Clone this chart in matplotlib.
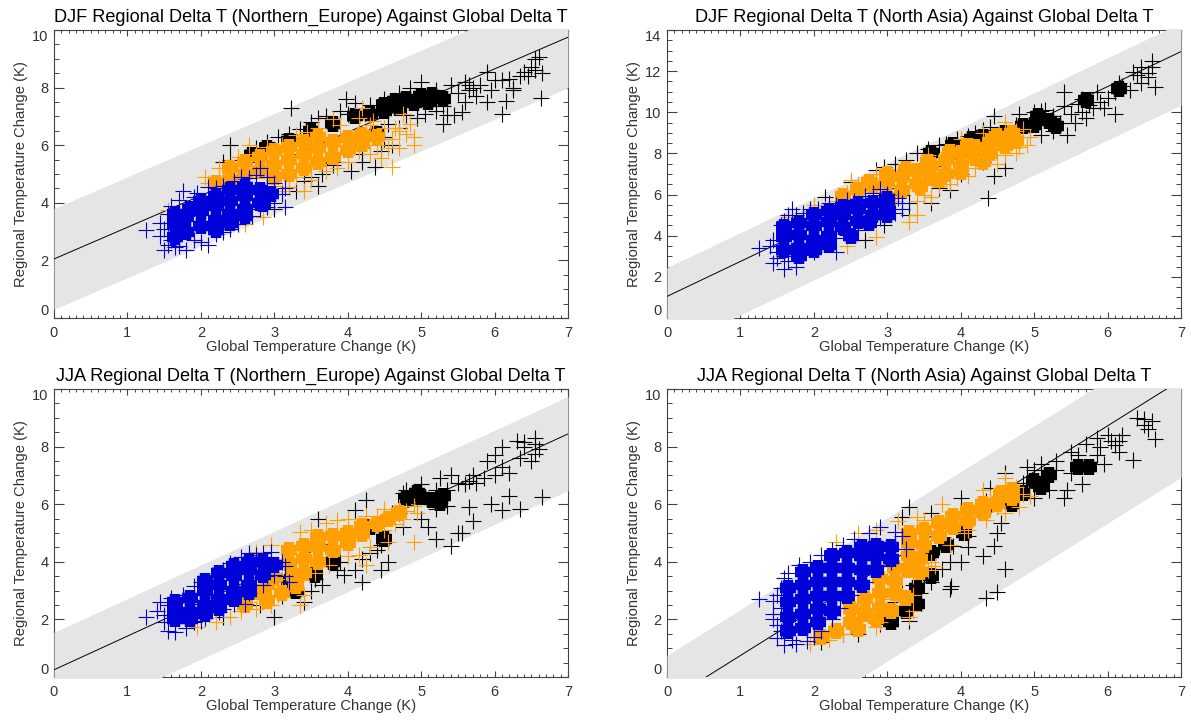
#!/usr/bin/env python3
"""Regional vs global temperature change, DJF/JJA, two regions."""

import numpy as np
import matplotlib
matplotlib.use("Agg")
import matplotlib.pyplot as plt
from matplotlib.transforms import Bbox, TransformedBbox

plt.rcParams["font.family"] = ["Liberation Sans", "DejaVu Sans"]

BLACK = "#000000"
ORANGE = "#ffa000"
BLUE = "#0000d8"
BAND = "#e5e5e5"
TEXT = "#333333"

TITLES = [
    "DJF Regional Delta T (Northern_Europe) Against Global Delta T",
    "DJF Regional Delta T (North Asia) Against Global Delta T",
    "JJA Regional Delta T (Northern_Europe) Against Global Delta T",
    "JJA Regional Delta T (North Asia) Against Global Delta T",
]
XLABEL = "Global Temperature Change (K)"
YLABEL = "Regional Temperature Change (K)"
YMAX = [10, 14, 10, 10]

# fit line: intercept, slope; band: lower and upper intercept
LINE_A = [2.05, 1.05, 0.25, -0.85]
LINE_B = [1.10, 1.70, 1.17, 1.595]
BAND_LO = [0.30, -1.55, -1.72, -4.23]
BAND_HI = [3.80, 2.45, 1.55, 0.75]

# ---------------- DJF Northern Europe ----------------
NE_DJF_BLACK = [(3.23,7.3),(2.4,6.0),(3.97,7.6),(6.63,7.65),(6.1,7.1),(5.3,6.75),(4.37,5.25),(3.6,4.6),
    (3.65,5.0),(3.3,4.4),(3.0,3.8),(4.2,5.4),(3.85,5.4),(4.6,6.0),(4.45,5.8),(4.5,6.2),(5.45,7.05),
    (5.55,7.15),(5.9,7.5),(5.95,7.9),(6.15,7.55),(6.25,7.9),(6.2,8.3),(6.1,8.25),(6.0,8.25),(5.9,8.55),
    (6.6,9.05),(6.55,8.6),(6.65,8.5),(6.45,8.4),(6.35,8.4),(6.55,9.0),(6.25,8.0),(5.7,8.0),(5.6,8.2),
    (5.75,7.7),(5.4,8.1),(5.2,7.9),(5.3,7.35),(5.5,7.8),(5.1,7.6),(4.85,8.0),(5.0,8.2),(4.7,7.8),
    (4.95,6.95),(5.2,7.2),(2.3,5.4),(2.4,5.5),(2.6,5.6),(2.9,6.1),(3.2,6.4),(3.5,6.8),(3.7,7.0),
    (4.0,7.1),(4.3,7.4),(4.5,7.6),(3.5,4.9),(3.8,5.3),(4.2,5.7),(4.5,6.3),(3.35,6.55),(3.05,6.3),
    (5.65,7.9),(5.8,8.1),(6.4,8.55),(6.5,8.7),(5.35,7.05),(5.05,7.1),(4.8,7.05),(4.55,6.75),(4.7,6.6),
    (5.6,7.5),(5.65,8.1),(4.1,7.45),(3.9,7.2),(3.6,6.95),(2.75,5.9),(4.05,5.1),(3.7,5.35),(3.4,4.75)]
NE_DJF_BLACK_CORE = [(3.5,6.5),(3.8,6.75),(4.1,7.0),(4.3,7.1),(4.5,7.2),(4.7,7.3),(4.9,7.45),(5.1,7.5),
    (5.0,7.7),(4.8,7.6),(5.3,7.6),(2.9,5.9),(3.2,6.15),(2.7,5.65),(4.5,7.4),(5.15,7.75),(4.65,7.55),(4.4,6.4)]
NE_DJF_ORANGE = [(2.05,4.9),(2.65,6.0),(2.4,4.3),(2.85,3.5),(2.6,3.25),(4.9,6.0),(4.6,5.25),(4.85,6.75),
    (4.2,7.3),(4.75,7.1),(4.4,6.0),(4.6,6.2),(4.5,6.6),(4.3,5.7),(4.55,5.9),(4.15,5.8),(3.85,5.2),
    (3.4,4.4),(3.3,4.9),(3.0,4.6),(2.3,4.9),(2.1,4.7),(2.75,5.7),(3.1,6.0),(3.3,6.35),(3.6,6.6),
    (3.9,6.7),(4.3,6.7),(4.7,6.5),(4.8,6.4),(3.1,4.4),(3.5,4.8),(1.55,3.75),(3.7,5.1),(4.0,5.4),
    (4.45,5.55),(4.65,6.6),(4.9,6.3),(4.35,6.85),(4.15,6.95),(3.8,6.9),(3.45,6.45),(2.9,5.95),(2.5,5.6),
    (2.25,5.2),(3.2,4.55),(4.7,5.9)]
NE_DJF_ORANGE_CORE = [(2.2,4.7),(2.4,4.8),(2.4,5.2),(2.6,5.0),(2.6,5.4),(2.8,5.1),(2.8,5.6),(3.0,4.9),
    (3.0,5.3),(3.0,5.8),(3.2,5.0),(3.2,5.5),(3.2,5.95),(3.4,5.2),(3.4,5.7),(3.4,6.1),(3.6,5.4),(3.6,5.9),
    (3.6,6.3),(3.8,5.6),(3.8,6.1),(4.0,5.85),(4.0,6.25),(4.2,6.05),(4.2,6.35),(4.4,6.3)]
NE_DJF_BLUE = [(1.25,3.05),(1.45,3.3),(1.45,2.85),(1.5,2.35),(1.8,2.35),(2.1,2.55),(1.75,4.4),(1.55,3.6),
    (1.6,3.9),(1.5,3.1),(1.55,2.55),(1.7,4.1),(1.9,4.2),(2.1,4.55),(2.3,4.6),(2.55,4.9),(2.8,5.2),
    (2.9,4.9),(3.0,4.7),(3.15,4.5),(3.15,3.85),(3.0,4.0),(2.8,3.8),(2.6,3.5),(2.4,3.1),(2.2,2.9),
    (2.0,2.65),(1.7,2.5),(1.6,2.7),(3.1,4.3),(2.65,4.85),(2.45,4.75),(1.55,3.3),(1.65,2.45),(1.9,2.7),
    (2.3,3.0),(2.5,3.25),(2.7,3.55),(2.9,3.85),(1.95,4.35),(2.2,4.5),(2.75,4.95)]
NE_DJF_BLUE_CORE = [(1.65,2.8),(1.65,3.25),(1.8,3.0),(1.8,3.5),(1.85,3.8),(2.0,3.2),(2.0,3.7),(2.0,4.05),
    (2.2,3.4),(2.2,3.9),(2.2,4.25),(2.4,3.6),(2.4,4.05),(2.4,4.45),(2.6,3.8),(2.6,4.25),(2.6,4.55),
    (2.8,4.0),(2.8,4.45),(2.95,4.3),(1.65,3.6),(2.2,3.05),(2.4,3.3),(2.6,3.55),(2.85,3.95)]

# ---------------- DJF North Asia ----------------
NA_DJF_BLACK = [(4.37,5.85),(4.45,6.9),(4.6,7.3),(3.85,6.2),(3.6,5.6),(3.3,5.0),(2.7,3.8),(2.95,4.5),
    (3.3,5.6),(3.7,6.3),(4.0,7.0),(4.3,7.6),(5.45,8.9),(5.35,9.5),(5.1,8.9),(5.25,9.8),(5.0,10.0),
    (4.8,9.9),(4.45,9.8),(4.4,9.3),(4.2,9.0),(3.95,8.7),(3.7,8.4),(3.4,8.0),(3.1,7.5),(2.85,7.2),
    (2.5,6.6),(2.15,5.9),(1.75,5.0),(5.4,10.3),(5.6,10.4),(5.65,10.0),(5.5,9.9),(5.7,9.7),(5.8,10.2),
    (5.9,10.5),(6.0,10.7),(5.95,10.2),(6.1,9.9),(6.1,11.0),(5.85,11.0),(5.4,11.0),(6.2,11.3),(6.3,11.1),
    (6.15,11.4),(6.4,11.8),(6.45,12.2),(6.55,11.9),(6.6,12.5),(6.65,11.25),(6.45,11.4),(6.55,11.7),
    (6.6,12.2),(6.35,11.95),(5.55,9.5),(5.25,9.1),(4.95,9.1),(5.15,10.1),(3.55,8.2),(3.8,8.45),(4.1,8.85),
    (4.3,9.15),(4.6,9.2),(3.25,7.7),(2.95,7.35),(4.75,9.4),(5.1,10.05),(5.65,10.65),(5.75,10.35),(3.2,6.0)]
NA_DJF_BLACK_CORE = [(5.0,9.4),(5.2,9.6),(4.85,9.35),(5.3,9.35),(4.6,9.0),(4.3,8.8),(5.05,9.8),(5.7,10.6),
    (6.15,11.15),(3.6,8.0),(3.9,8.4),(4.15,8.7)]
NA_DJF_ORANGE = [(1.65,4.9),(2.0,5.5),(2.5,6.7),(3.3,4.65),(2.85,3.95),(2.45,3.5),(3.4,5.0),(3.6,5.9),
    (3.85,6.5),(4.1,6.9),(4.5,7.5),(4.9,8.4),(4.75,8.0),(4.85,9.2),(4.6,9.55),(4.75,9.1),(3.4,5.7),
    (3.1,5.7),(3.2,7.0),(2.7,6.2),(2.3,5.7),(2.15,5.3),(3.55,7.9),(4.0,8.7),(4.3,9.0),(4.7,8.6),
    (3.5,6.0),(3.7,6.4),(3.95,6.8),(4.2,7.3),(4.4,7.8),(4.6,7.9),(4.8,8.3),(4.95,8.8),(2.6,6.5),(2.85,7.0),
    (1.95,5.2),(2.45,6.1)]
NA_DJF_ORANGE_CORE = [(2.6,6.2),(2.8,6.4),(3.0,5.9),(3.0,6.6),(3.2,6.2),(3.2,6.85),(3.4,6.5),(3.4,7.15),
    (3.6,6.8),(3.6,7.4),(3.8,7.0),(3.8,7.7),(4.0,7.4),(4.0,8.0),(4.2,7.8),(4.2,8.3),(4.4,8.0),(4.4,8.55),
    (4.6,8.35),(4.7,9.0),(2.4,5.95),(2.75,6.6),(3.0,7.0),(3.25,7.25),(3.55,7.6),(3.85,8.05),(4.1,8.35),
    (4.5,8.85),(3.45,6.35),(3.7,6.7),(4.0,7.1),(4.3,7.6),(4.75,8.6)]
NA_DJF_BLUE = [(1.25,3.4),(1.45,2.65),(1.6,2.4),(1.75,2.5),(2.3,3.2),(1.7,5.3),(1.5,3.2),(1.45,3.8),
    (1.55,4.5),(1.6,4.7),(1.85,5.1),(2.05,5.3),(2.3,5.5),(2.55,5.7),(2.9,6.25),(3.0,6.05),(3.15,5.85),
    (3.2,5.6),(3.1,5.1),(2.9,4.85),(2.6,4.3),(2.3,3.9),(2.1,3.5),(1.85,3.05),(1.65,2.75),(1.5,2.9),
    (2.8,6.1),(2.7,5.95),(3.2,5.3),(1.4,3.5),(1.55,3.5),(1.65,5.0),(1.95,5.3),(2.2,5.6),(2.45,5.75),
    (2.0,3.2),(2.45,4.05),(2.75,4.65),(1.6,3.0)]
NA_DJF_BLUE_CORE = [(1.6,3.3),(1.6,3.95),(1.8,3.4),(1.8,4.05),(1.8,4.6),(2.0,3.8),(2.0,4.45),(2.0,5.0),
    (2.2,4.0),(2.2,4.65),(2.2,5.2),(2.4,4.4),(2.4,5.0),(2.4,5.4),(2.6,4.7),(2.6,5.3),(2.6,5.55),
    (2.8,5.0),(2.8,5.6),(3.0,5.45),(1.6,4.4),(1.8,3.0),(2.0,3.3),(2.2,3.55),(2.5,4.0),(2.75,4.6),(3.0,5.0),(3.0,5.8)]

# ---------------- JJA Northern Europe ----------------
NE_JJA_BLACK = [(6.65,6.25),(6.35,5.85),(6.1,5.8),(5.7,5.4),(5.4,4.55),(5.2,4.8),(5.5,5.0),(5.1,5.2),
    (5.55,5.0),(4.2,3.3),(4.55,4.0),(4.45,3.7),(3.85,3.7),(3.55,3.4),(3.5,3.0),(3.4,2.6),(4.1,3.7),
    (3.9,4.0),(4.3,4.3),(4.45,4.6),(4.25,6.15),(3.6,5.5),(4.1,5.8),(4.6,5.7),(4.8,6.5),(4.75,5.2),
    (5.0,5.5),(5.35,5.95),(5.65,5.9),(5.95,6.0),(6.2,6.3),(5.85,6.9),(5.6,6.7),(5.4,7.0),(5.25,6.9),
    (5.0,6.7),(6.1,7.3),(6.2,7.1),(5.9,7.5),(6.0,7.7),(6.1,8.0),(6.3,8.2),(6.4,8.0),(6.55,8.1),(6.6,7.9),
    (6.5,7.5),(6.35,7.6),(6.55,8.3),(5.75,6.75),(4.7,5.7),(2.8,2.5),(3.1,2.8),(3.0,2.1),(1.9,1.9),
    (2.3,2.1),(5.5,6.75),(5.65,6.8),(5.7,7.0),(6.0,7.0),(5.35,6.5),(5.2,6.5),(4.75,6.4),(4.95,6.05),
    (5.2,5.85),(4.4,4.4),(4.2,4.1),(3.95,3.55),(3.65,3.2),(3.3,3.1),(6.4,8.15),(6.55,7.75)]
NE_JJA_BLACK_CORE = [(4.8,6.2),(5.0,6.25),(5.15,6.15),(5.3,6.3),(4.5,4.8),(3.8,4.0),(3.55,3.55),(3.2,3.3),
    (4.95,6.4),(5.25,6.05),(4.3,5.2),(3.3,3.0)]
NE_JJA_ORANGE = [(4.9,4.7),(4.55,4.7),(4.25,3.9),(3.4,2.85),(3.35,2.5),(2.65,2.6),(2.55,2.3),(2.95,2.5),
    (3.15,3.0),(2.95,3.6),(2.95,4.6),(2.75,4.35),(3.35,5.05),(3.7,5.35),(4.0,5.5),(4.25,5.6),(4.5,5.85),
    (4.7,5.9),(4.9,5.95),(4.75,5.5),(4.95,5.7),(4.0,4.2),(3.75,3.9),(3.55,3.6),(2.6,2.8),(2.85,3.0),
    (2.2,1.9),(1.95,1.75),(2.4,2.1),(3.5,5.1),(3.85,5.45),(4.5,5.1),(4.65,5.3),(4.4,5.6),(4.8,5.75),
    (3.1,3.4),(3.3,3.3),(2.75,2.35),(3.05,2.85),(4.3,4.5),(4.15,4.25)]
NE_JJA_ORANGE_CORE = [(3.2,3.95),(3.2,4.4),(3.4,3.6),(3.4,4.1),(3.4,4.55),(3.6,4.0),(3.6,4.5),(3.6,4.85),
    (3.8,4.4),(3.8,4.9),(4.0,4.65),(4.0,5.0),(4.2,4.95),(4.2,5.25),(4.4,5.3),(4.7,5.7),(2.75,2.95),(2.9,3.2),
    (3.0,3.45),(2.9,2.65),(3.1,2.9),(3.3,3.15),(3.25,3.5),(4.55,5.5),(2.6,2.5)]
NE_JJA_BLUE = [(1.25,2.1),(1.45,2.6),(1.55,2.5),(1.4,2.3),(1.5,1.9),(1.55,1.6),(1.65,1.55),(1.8,1.7),
    (2.05,2.05),(2.25,2.25),(2.45,2.55),(2.65,2.9),(2.85,3.2),(3.0,3.55),(3.2,3.3),(3.15,3.85),(3.1,4.0),
    (2.95,4.35),(2.75,4.25),(2.55,4.15),(2.3,3.7),(2.15,3.55),(1.9,3.15),(1.75,2.85),(1.6,2.5),(2.85,4.3),
    (3.15,3.5),(2.9,3.5),(2.6,2.55),(1.6,2.75),(2.0,3.3),(2.4,3.95),(2.65,4.3),(2.0,1.95),(2.3,2.35),(1.5,2.15)]
NE_JJA_BLUE_CORE = [(1.65,2.0),(1.65,2.35),(1.85,2.25),(1.85,2.75),(2.05,2.5),(2.05,3.0),(2.05,3.35),
    (2.25,2.7),(2.25,3.2),(2.25,3.6),(2.45,3.0),(2.45,3.5),(2.45,3.85),(2.65,3.2),(2.65,3.7),(2.65,4.0),
    (2.85,3.55),(2.85,4.0),(3.0,3.9),(1.85,2.0),(2.05,2.2),(2.25,2.4),(2.45,2.7),(1.65,2.6),(2.65,2.95)]

# ---------------- JJA North Asia ----------------
NA_JJA_BLACK = [(4.35,2.75),(4.5,2.95),(4.6,3.75),(3.85,3.05),(3.87,3.15),(3.3,1.95),(2.9,1.85),(3.1,2.6),
    (3.45,2.9),(3.6,3.3),(3.85,4.0),(4.0,4.0),(4.1,4.5),(4.3,4.2),(4.45,4.55),(4.5,5.0),(4.55,5.35),
    (4.1,4.9),(3.7,4.5),(3.3,5.9),(3.6,5.7),(3.2,5.55),(4.0,6.2),(4.4,6.55),(4.6,7.1),(4.9,7.3),(5.0,7.2),
    (5.1,7.4),(5.3,7.2),(5.45,6.5),(5.4,6.2),(5.5,7.1),(5.6,7.7),(5.5,7.8),(5.7,8.1),(5.85,7.7),(5.9,8.0),
    (6.05,8.2),(6.15,8.2),(6.2,8.4),(6.35,7.55),(6.15,7.8),(6.5,8.95),(6.6,8.9),(6.65,8.25),(6.4,9.0),
    (6.0,8.4),(5.95,7.4),(5.65,6.7),(5.2,6.5),(5.0,6.2),(2.1,1.2),(2.6,1.5),(2.4,1.5),(5.85,8.3),(6.1,8.05),
    (6.5,8.75),(6.55,8.6),(5.3,7.5),(4.85,6.75),(5.1,6.85),(3.9,4.55),(3.75,3.75),(4.35,6.1),(3.5,3.5),(3.0,2.0),
    (3.35,3.2),(3.2,2.9)]
NA_JJA_BLACK_CORE = [(5.0,6.8),(5.2,7.0),(5.6,7.3),(5.75,7.3),(4.7,6.0),(3.3,3.7),(3.4,3.1),(3.6,4.3),(2.7,2.2),
    (3.4,2.55),(3.6,3.5),(3.05,1.9),(3.25,2.3),(3.8,4.6),(4.05,5.0),(4.35,5.9),(5.1,6.6),(4.85,6.4)]
NA_JJA_ORANGE = [(3.3,2.1),(3.35,2.3),(2.85,1.75),(2.4,1.5),(2.2,1.3),(1.95,1.15),(3.1,2.5),(3.35,2.85),
    (3.55,3.7),(3.6,4.0),(4.05,5.0),(4.35,5.45),(4.5,5.9),(4.8,5.9),(4.95,6.3),(4.75,6.6),(4.6,6.9),(4.3,6.5),
    (3.75,6.0),(3.4,5.55),(3.15,5.4),(2.85,5.1),(2.6,5.0),(2.3,4.7),(4.6,5.7),(3.35,3.5),(2.7,2.6),(2.95,2.7),
    (2.05,3.0),(2.9,1.9),(2.55,1.75),(3.65,3.85),(3.85,4.6),(4.1,5.1),(4.55,6.15),(4.85,6.35),(3.5,5.45),(4.4,6.2)]
NA_JJA_ORANGE_CORE = [(2.3,1.6),(2.5,1.9),(2.5,2.35),(2.7,2.2),(2.7,2.7),(2.9,2.4),(2.9,2.9),(2.9,3.4),
    (3.1,2.9),(3.1,3.35),(3.1,3.8),(3.3,3.7),(3.3,4.2),(3.3,4.65),(3.3,5.0),(3.5,4.6),(3.5,5.1),(3.7,4.9),(3.7,5.35),
    (3.9,5.2),(3.9,5.6),(4.1,5.4),(4.1,5.8),(4.3,5.7),(4.3,6.0),(4.5,6.0),(4.7,6.2),(4.7,6.5),(2.6,1.65),(2.85,2.0),
    (3.05,2.3),(3.25,2.75),(3.45,4.1),(3.45,3.65),(2.1,1.4),(4.55,6.4)]
NA_JJA_BLUE = [(1.25,2.7),(1.45,2.65),(1.45,2.2),(1.45,2.0),(1.5,1.35),(1.55,1.6),(1.6,1.1),(1.75,1.15),
    (1.9,1.25),(2.1,1.6),(2.25,2.0),(2.35,2.4),(2.5,2.85),(2.7,3.3),(2.9,3.85),(3.05,4.0),(3.25,4.45),(3.2,4.9),
    (2.9,5.2),(2.55,4.8),(2.25,4.4),(1.95,4.0),(1.8,3.9),(1.6,3.45),(1.55,3.1),(1.55,2.4),(2.1,4.25),(2.75,5.0),
    (3.1,5.05),(2.4,4.6),(1.5,1.8),(1.5,2.85),(1.65,3.6),(1.7,1.3),(2.0,1.4)]
NA_JJA_BLUE_CORE = [(1.65,1.6),(1.65,2.1),(1.65,2.6),(1.65,3.1),(1.85,1.7),(1.85,2.2),(1.85,2.7),(1.85,3.2),
    (1.85,3.65),(2.05,1.9),(2.05,2.35),(2.05,2.8),(2.05,3.3),(2.05,3.8),(2.25,2.3),(2.25,2.8),(2.25,3.3),(2.25,3.8),
    (2.25,4.2),(2.45,2.8),(2.45,3.3),(2.45,3.8),(2.45,4.3),(2.65,3.2),(2.65,3.7),(2.65,4.2),(2.65,4.5),(2.85,3.7),
    (2.85,4.2),(2.85,4.55),(3.05,4.1),(3.05,4.5)]

BLACK_PTS = [NE_DJF_BLACK, NA_DJF_BLACK, NE_JJA_BLACK, NA_JJA_BLACK]
BLACK_CORE = [NE_DJF_BLACK_CORE, NA_DJF_BLACK_CORE, NE_JJA_BLACK_CORE, NA_JJA_BLACK_CORE]
ORANGE_PTS = [NE_DJF_ORANGE, NA_DJF_ORANGE, NE_JJA_ORANGE, NA_JJA_ORANGE]
ORANGE_CORE = [NE_DJF_ORANGE_CORE, NA_DJF_ORANGE_CORE, NE_JJA_ORANGE_CORE, NA_JJA_ORANGE_CORE]
BLUE_PTS = [NE_DJF_BLUE, NA_DJF_BLUE, NE_JJA_BLUE, NA_JJA_BLUE]
BLUE_CORE = [NE_DJF_BLUE_CORE, NA_DJF_BLUE_CORE, NE_JJA_BLUE_CORE, NA_JJA_BLUE_CORE]

W, H = 1191, 720
BOXES = [(54, 30, 568, 318), (667, 30, 1181, 318), (54, 389, 568, 677), (667, 389, 1181, 677)]


def crosses(ax, pts, core, color, z):
    # dense middle of a cloud: fat crosses, the loose ones around it stay thin
    cx, cy = np.array(core).T
    ax.plot(cx, cy, ls="", marker="+", ms=12, mew=7.5, color=color, zorder=z)
    x, y = np.array(pts).T
    ax.plot(x, y, ls="", marker="+", ms=11, mew=0.8, color=color, zorder=z)


fig = plt.figure(figsize=(W / 100, H / 100), dpi=100)

for i, (l, t, r, b) in enumerate(BOXES):
    ax = fig.add_axes([l / W, 1 - b / H, (r - l) / W, (b - t) / H])
    ax.set_xlim(0, 7)
    ax.set_ylim(0, YMAX[i])
    ax.set_axisbelow(True)

    xs = np.array([0.0, 7.0])
    band = ax.fill_between(xs, BAND_LO[i] + LINE_B[i] * xs, BAND_HI[i] + LINE_B[i] * xs,
                           color=BAND, lw=0, zorder=1)
    # band paints over the axis lines as well
    band.set_clip_box(TransformedBbox(Bbox([[-0.003, -0.005], [1.003, 1.005]]), ax.transAxes))
    ax.plot(xs, LINE_A[i] + LINE_B[i] * xs, color="black", lw=0.7, zorder=2)

    crosses(ax, BLACK_PTS[i], BLACK_CORE[i], BLACK, 3)
    crosses(ax, ORANGE_PTS[i], ORANGE_CORE[i], ORANGE, 4)
    crosses(ax, BLUE_PTS[i], BLUE_CORE[i], BLUE, 5)

    for s in ax.spines.values():
        s.set_zorder(0.5)
        s.set_linewidth(0.8)
        s.set_color("#444444")

    ax.set_xticks(np.arange(0, 8))
    ax.set_xticks(np.arange(0, 7.01, 0.1), minor=True)
    ax.set_yticks(np.arange(0, YMAX[i] + 1, 2))
    ax.set_yticks(np.arange(0, YMAX[i] + 0.1, 0.5), minor=True)
    ax.tick_params(axis="x", which="major", direction="in", top=True, length=4.5, width=0.8,
                   color="#444444", labelsize=10.5, labelcolor=TEXT, pad=6)
    ax.tick_params(axis="x", which="minor", direction="in", top=True, length=2.2, width=0.7, color="#444444")
    ax.tick_params(axis="y", which="major", direction="in", right=True, length=7.5, width=0.8,
                   color="#444444", labelsize=10.5, labelcolor=TEXT, pad=4)
    ax.tick_params(axis="y", which="minor", direction="in", right=True, length=3.8, width=0.7, color="#444444")

    ylabs = ax.get_yticklabels()
    ylabs[0].set_va("bottom")
    ylabs[-1].set_va("top")

    ax.set_xlabel(XLABEL, fontsize=10.6, color=TEXT, labelpad=0)
    ax.set_ylabel(YLABEL, fontsize=10.6, color=TEXT, labelpad=3)
    ax.set_title(TITLES[i], fontsize=13.1, color="black", pad=6)

fig.savefig("out.png", dpi=100)
